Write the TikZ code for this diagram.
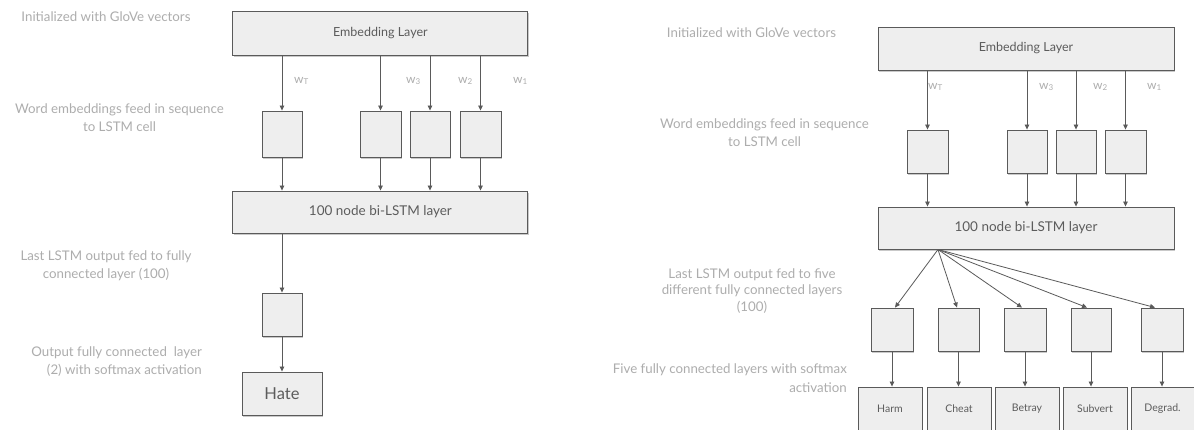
\documentclass[tikz,border=0pt]{standalone}
\usepackage{fontspec}
\setmainfont{Lato}
\usetikzlibrary{arrows.meta,shadows}
\definecolor{boxline}{HTML}{5A5A5A}
\definecolor{boxfill}{HTML}{EEEEEE}
\definecolor{boxtext}{HTML}{5C5C5C}
\definecolor{notetext}{HTML}{ADADAD}
\tikzset{
  lbox/.style={draw=boxline, fill=boxfill, line width=0.9pt, inner sep=0pt,
    text=boxtext, drop shadow={shadow xshift=1pt, shadow yshift=-1.6pt, opacity=0.35, fill=black!60}},
  note/.style={text=notetext, align=center, font=\fontsize{13.3}{18.3}\selectfont, inner sep=0pt},
  wlab/.style={text=notetext, anchor=west, font=\fontsize{12}{14}\selectfont, inner sep=0pt},
  conn/.style={draw=boxline, line width=0.8pt, -{Triangle[length=5pt,width=4.5pt]}},
  embtext/.style={font=\fontsize{12.5}{15}\selectfont},
  lstmtext/.style={font=\fontsize{13.5}{16}\selectfont},
  smalltext/.style={font=\fontsize{10.5}{13}\selectfont},
}
\begin{document}
\begin{tikzpicture}[x=1pt,y=-1pt]
\useasboundingbox (0,0) rectangle (1194,429);
\clip (0,0) rectangle (1194,429);
\fill[white] (0,0) rectangle (1194,429);

% ---------------- left diagram ----------------
\node[lbox, embtext, minimum width=295pt, minimum height=44pt] (emb1) at (380.4,33) {Embedding Layer};
\node[lbox, minimum width=40pt, minimum height=46pt] (c1) at (282,134) {};
\node[lbox, minimum width=41pt, minimum height=46pt] (c2) at (380.5,134) {};
\node[lbox, minimum width=40pt, minimum height=46pt] (c3) at (430,134) {};
\node[lbox, minimum width=41pt, minimum height=46pt] (c4) at (480.5,134) {};
\node[lbox, lstmtext, minimum width=295pt, minimum height=42pt] (lstm1) at (380.4,212) {100 node bi-LSTM layer};
\node[lbox, minimum width=40pt, minimum height=43pt] (fc1) at (282,314.5) {};
\node[lbox, minimum width=80pt, minimum height=43pt, font=\fontsize{16.5}{19}\selectfont] (hate) at (282,393.5) {Hate};

\foreach \c in {c1,c2,c3,c4}{
  \draw[conn] (\c.north |- emb1.south) -- (\c.north);
  \draw[conn] (\c.south) -- (\c.south |- lstm1.north);
}
\draw[conn] (fc1.north |- lstm1.south) -- (fc1.north);
\draw[conn] (fc1.south) -- (hate.north);

\node[wlab] (wT1) at (294,81) {w\textsubscript{T}};
\node[wlab] (w31) at (406,81) {w\textsubscript{3}};
\node[wlab] (w21) at (458,81) {w\textsubscript{2}};
\node[wlab] (w11) at (513,81) {w\textsubscript{1}};

\node[note] (n1) at (106,17) {Initialized with GloVe vectors};
\node[note] (n2) at (119.5,117.5) {Word embeddings feed in sequence\\to LSTM cell};
\node[note] (n3) at (106,265.5) {Last LSTM output fed to fully\\connected layer (100)};
\node[note, align=right, anchor=east] (n4) at (202,361.5) {Output fully connected\ \ layer\\(2) with softmax activation};

% ---------------- right diagram ----------------
\node[lbox, embtext, minimum width=296pt, minimum height=43pt] (emb2) at (1026,48.5) {Embedding Layer};
\node[lbox, minimum width=41pt, minimum height=43pt] (d1) at (927.5,151.5) {};
\node[lbox, minimum width=40pt, minimum height=43pt] (d2) at (1027,151.5) {};
\node[lbox, minimum width=40pt, minimum height=43pt] (d3) at (1076,151.5) {};
\node[lbox, minimum width=41pt, minimum height=43pt] (d4) at (1125.5,151.5) {};
\node[lbox, lstmtext, minimum width=296pt, minimum height=42pt] (lstm2) at (1026,228) {100 node bi-LSTM layer};

\foreach \c in {d1,d2,d3,d4}{
  \draw[conn] (\c.north |- emb2.south) -- (\c.north);
  \draw[conn] (\c.south) -- (\c.south |- lstm2.north);
}

\node[wlab] (wT2) at (928,87) {w\textsubscript{T}};
\node[wlab] (w32) at (1039,87) {w\textsubscript{3}};
\node[wlab] (w22) at (1093,87) {w\textsubscript{2}};
\node[wlab] (w12) at (1147,87) {w\textsubscript{1}};

\node[lbox, minimum width=42pt, minimum height=43pt] (f1) at (892,329.5) {};
\node[lbox, minimum width=41pt, minimum height=43pt] (f2) at (958.5,329.5) {};
\node[lbox, minimum width=42pt, minimum height=43pt] (f3) at (1025,329.5) {};
\node[lbox, minimum width=40pt, minimum height=43pt] (f4) at (1091,329.5) {};
\node[lbox, minimum width=42pt, minimum height=43pt] (f5) at (1162,329.5) {};

\coordinate (fan) at (938,249.5);
\draw[conn] (fan) -- ([xshift=3pt]f1.north);
\draw[conn] (fan) -- ([xshift=-1.5pt]f2.north);
\draw[conn] (fan) -- ([xshift=-3pt]f3.north);
\draw[conn] (fan) -- ([xshift=-4pt]f4.north);
\draw[conn] (fan) -- ([xshift=-7pt]f5.north);

\node[lbox, smalltext, minimum width=64pt, minimum height=44pt] (o1) at (890,409) {Harm};
\node[lbox, smalltext, minimum width=64pt, minimum height=44pt] (o2) at (959,409) {Cheat};
\node[lbox, smalltext, minimum width=64pt, minimum height=44pt] (o3) at (1027,409) {Betray};
\node[lbox, smalltext, minimum width=64pt, minimum height=44pt] (o4) at (1095,409) {Subvert};
\node[lbox, smalltext, minimum width=63pt, minimum height=44pt] (o5) at (1162.5,409) {Degrad.};

\foreach \i in {1,...,5}{
  \draw[conn] (f\i.south) -- (f\i.south |- o\i.north);
}

\node[note] (m1) at (751.5,33) {Initialized with GloVe vectors};
\node[note] (m2) at (764.5,133) {Word embeddings feed in sequence\\to LSTM cell};
\node[note, font=\fontsize{13.3}{16.3}\selectfont] (m3) at (752,291) {Last LSTM output fed to five\\different fully connected layers\\(100)};
\node[note, align=right, anchor=east] (m4) at (847,378) {Five fully connected layers with softmax\\activation};
\end{tikzpicture}
\end{document}
